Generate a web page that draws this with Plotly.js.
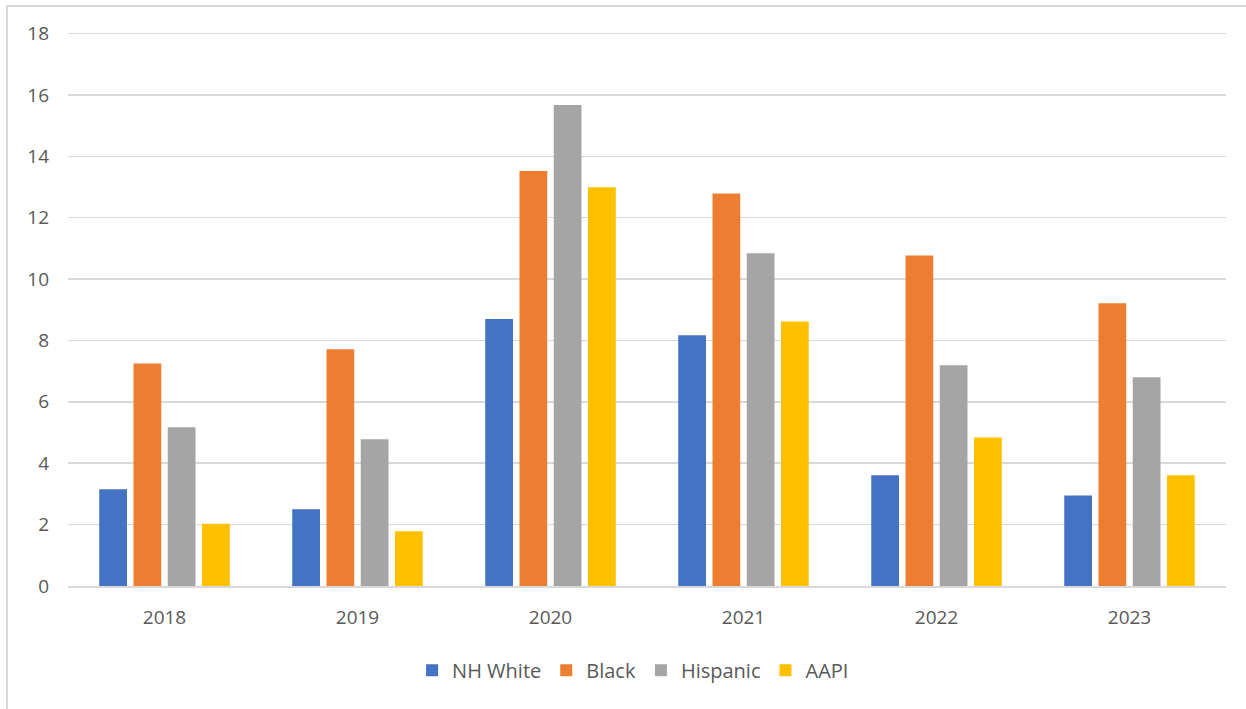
<!DOCTYPE html>
<html>
<head>
<meta charset="utf-8">
<script src="https://cdn.plot.ly/plotly-3.0.1.min.js"></script>
<style>
  html, body { margin: 0; padding: 0; background: #ffffff; }
  #wrap { position: relative; width: 1246px; height: 709px; overflow: hidden; }
  #frame { position: absolute; left: 6px; top: 5px; width: 1300px; height: 800px;
           border-left: 2px solid #d9d9d9; border-top: 2px solid #d9d9d9; pointer-events: none; }
  #chart { position: absolute; left: 0; top: 0; width: 1246px; height: 709px; }
</style>
</head>
<body>
<div id="wrap">
  <div id="chart"></div>
  <div id="frame"></div>
</div>
<script>
const years = ['2018', '2019', '2020', '2021', '2022', '2023'];
const seriesNames = ['NH White', 'Black', 'Hispanic', 'AAPI'];
const nhWhite  = [3.15, 2.50, 8.70, 8.17, 3.61, 2.95];
const black    = [7.25, 7.71, 13.52, 12.79, 10.77, 9.21];
const hispanic = [5.17, 4.78, 15.67, 10.84, 7.19, 6.80];
const aapi     = [2.03, 1.78, 12.99, 8.62, 4.84, 3.61];
const yTicks = [0, 2, 4, 6, 8, 10, 12, 14, 16, 18];

const colors = ['#4472C4', '#ED7D31', '#A5A5A5', '#FFC000'];
const values = [nhWhite, black, hispanic, aapi];

const traces = seriesNames.map((name, i) => ({
  type: 'bar',
  name: name,
  x: years,
  y: values[i],
  marker: { color: colors[i], line: { width: 0 } },
  hoverinfo: 'x+y+name'
}));

const font = { family: '"Open Sans", "Noto Sans", sans-serif', color: '#595959' };

const layout = {
  width: 1246,
  height: 709,
  margin: { l: 68, r: 20, t: 32, b: 123 },
  paper_bgcolor: 'rgba(0,0,0,0)',
  plot_bgcolor: '#ffffff',
  barmode: 'group',
  bargap: 0.29,
  bargroupgap: 0.19,
  font: Object.assign({ size: 19 }, font),
  xaxis: {
    type: 'category',
    tickfont: Object.assign({ size: 19 }, font),
    showgrid: false,
    showline: true,
    linecolor: '#d9d9d9',
    linewidth: 1.5,
    ticks: '',
    ticklabelstandoff: 14,
    zeroline: false
  },
  yaxis: {
    range: [0, 18.05],
    tickvals: yTicks,
    ticktext: yTicks.map(String),
    tickfont: Object.assign({ size: 19 }, font),
    showgrid: true,
    gridcolor: '#d9d9d9',
    gridwidth: 1.5,
    zeroline: false,
    showline: false,
    ticks: '',
    ticklabelstandoff: 18
  },
  legend: {
    orientation: 'h',
    x: 0.488,
    xanchor: 'center',
    y: -0.152,
    yanchor: 'middle',
    font: Object.assign({ size: 20 }, font),
    itemwidth: 30,
    traceorder: 'normal'
  },
  showlegend: true
};

Plotly.newPlot('chart', traces, layout, { displayModeBar: false, staticPlot: true });
</script>
</body>
</html>
